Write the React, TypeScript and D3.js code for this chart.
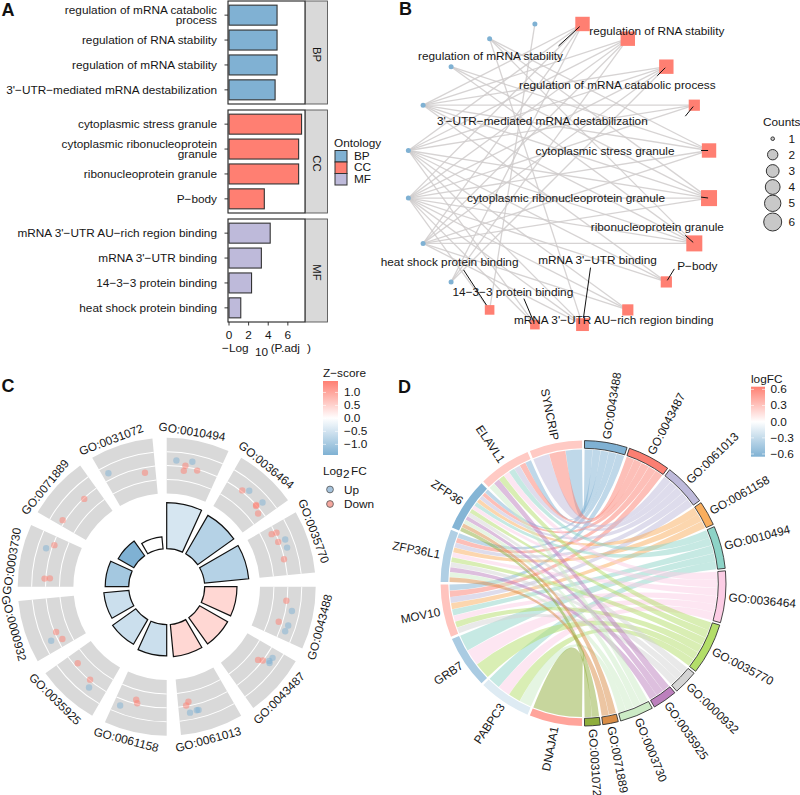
import React from "react";
import * as d3 from "d3";

const FONT = "'Liberation Sans', Arial, sans-serif";
const RED = "#FF7F72";
const BLUE = "#7FB1D3";
const INK = "#161616";

// ---------- shared data ----------
const goIds = ["GO:0043488","GO:0043487","GO:0061013","GO:0061158","GO:0010494","GO:0036464","GO:0035770","GO:0000932","GO:0035925","GO:0003730","GO:0071889","GO:0031072"];
const goNames = ["regulation of mRNA stability","regulation of RNA stability","regulation of mRNA catabolic process","3'−UTR−mediated mRNA destabilization","cytoplasmic stress granule","cytoplasmic ribonucleoprotein granule","ribonucleoprotein granule","P−body","mRNA 3'−UTR AU−rich region binding","mRNA 3'−UTR binding","14−3−3 protein binding","heat shock protein binding"];
const goNegLogP = [4.9,4.9,4.9,4.7,7.4,7.1,7.1,3.6,4.2,3.3,2.3,1.2];
const goCounts = [5,5,5,3,5,6,6,3,3,4,2,2];
const goColors = ["#7FB1D3","#FB7F72","#BEBADA","#F9AE5E","#8DD3C7","#FCCDE5","#B3DE69","#D4D4D4","#BC80BD","#CCEBC5","#D98C45","#8FAE3C"];
const goZ = [0.447,0.447,0.447,-0.577,-0.447,-0.816,-0.816,-0.577,-0.577,-1,-1.414,0];

const genes = ["SYNCRIP","ELAVL1","ZFP36","ZFP36L1","MOV10","GRB7","PABPC3","DNAJA1"];
const geneLogFC = [0.27,0.27,-0.62,-0.4,0.3,-0.43,-0.17,0.46];
const termsSYNCRIP = [0,1,2];
const termsELAVL1 = [0,1,2,4,5,6,8,9];
const termsZFP36 = [0,1,2,3,4,5,6,7,8,9,10,11];
const termsZFP36L1 = [0,1,2,3,5,6,7,8,9,10];
const termsMOV10 = [0,1,2,3,4,5,6,7];
const termsGRB7 = [4,5,6];
const termsPABPC3 = [4,5,6,9];
const termsDNAJA1 = [11];
const geneTerms = [termsSYNCRIP,termsELAVL1,termsZFP36,termsZFP36L1,termsMOV10,termsGRB7,termsPABPC3,termsDNAJA1];

// ---------- panel A ----------
const panelRows = [
  { key: "BP", color: "#80B1D3", terms: [2,1,0,3] },
  { key: "CC", color: RED, terms: [4,5,6,7] },
  { key: "MF", color: "#BEBADA", terms: [8,9,10,11] },
];
const barLabelLines: Record<number,string[]> = {
  2: ["regulation of mRNA catabolic","process"],
  5: ["cytoplasmic ribonucleoprotein","granule"],
};
const xTicksA = [0,2,4,6];

// ---------- panel B ----------
const countsLegend = [1,2,3,4,5,6];
const countsLegendR = [1.8,5.2,6.4,7.4,8.2,9];
const countsLegendY = [138.7,154.7,171,187,203.3,222];
// ggrepel-style label offsets from the node, and where the leader leaves the label
const repelB: { dx:number; dy:number; seg?:[number,number] }[] = [
  { dx:-92, dy:32, seg:[-24,22] },
  { dx:29, dy:-8 },
  { dx:-49, dy:18, seg:[-9,9] },
  { dx:-152, dy:16, seg:[-9,11] },
  { dx:-104, dy:1, seg:[-8,0] },
  { dx:-143, dy:0, seg:[-8,-1] },
  { dx:-37, dy:-16, seg:[-9,-8] },
  { dx:31, dy:-16, seg:[8,-13] },
  { dx:-14, dy:10 },
  { dx:15, dy:-65, seg:[8,-57] },
  { dx:-22, dy:-33, seg:[-11,-26] },
  { dx:-40, dy:-48, seg:[-26,-40] },
];

// ---------- panel C ----------
const cOrder = [4,5,6,0,1,2,3,8,7,9,10,11];
// [angle in degrees, log2FC] for the points of each GO term
const dots0010494 = [[4.4,0.39],[11.6,0.46],[8.8,0.09],[8.4,-0.29],[14.7,-0.08]];
const dots0036464 = [[38.1,0.09],[40.7,0.39],[48.7,0.46],[47.9,-0.05],[47.6,0.0],[51.3,-0.29]];
const dots0035770 = [[63.4,-0.27],[63.8,0.09],[68.1,-0.07],[68.3,0.46],[72,0.39],[76.8,-0.05]];
const dots0043488 = [[96.7,-0.05],[101,0.46],[107.4,-0.27],[107.7,0.46],[110.6,0.39]];
const dots0043487 = [[128.7,-0.29],[127.5,0],[123.9,0.46],[125.9,0.39],[126.6,0.5]];
const dots0061013 = [[169.3,-0.29],[170.7,-0.05],[169.5,0.5],[166.3,0.43],[165.5,0.44]];
const dots0061158 = [[195.1,-0.29],[194.2,-0.07],[201.4,0.46]];
const dots0035925 = [[229.3,-0.27],[219.5,-0.05],[217.6,0.44]];
const dots0000932 = [[247.7,-0.12],[243.4,-0.32],[244.9,0.46]];
const dots0003730 = [[273.8,0.09],[274.1,-0.29],[290.3,-0.1],[287.7,0.39]];
const dots0071889 = [[302.6,0.17],[316.8,-0.05]];
const dots0031072 = [[332.8,0.46],[349.2,-0.37]];
const cDots = [dots0010494,dots0036464,dots0035770,dots0043488,dots0043487,dots0061013,dots0061158,dots0035925,dots0000932,dots0003730,dots0071889,dots0031072];
const zTicks = [1,0.5,0,-0.5,-1];
const fcTicks = [0.6,0.3,0,-0.3,-0.6];

const FS = 11.8;
const rad = (d:number) => d*Math.PI/180;
const fmt = (v:number,n=1) => (v<0?"−":"")+Math.abs(v).toFixed(n);

function PanelA() {
  const x = d3.scaleLinear().domain([0,7.8]).range([229,305.5]);
  const tops = [1,110,219];
  const h = 103;
  return <g fontFamily={FONT}>
    {panelRows.map((p,i)=>{
      const y = d3.scaleBand<number>().domain(p.terms).range([tops[i],tops[i]+h]).paddingInner(0.197).paddingOuter(0.167);
      return <g key={p.key}>
        <rect x={228} y={tops[i]} width={77} height={h} fill="#fff" stroke="#222" strokeWidth={1.1}/>
        <rect x={305.5} y={tops[i]} width={22} height={h} fill="#D9D9D9" stroke="#555" strokeWidth={0.9}/>
        <text transform={`translate(312.5,${tops[i]+h/2+2}) rotate(90)`} fontSize={11.3} fill={INK} textAnchor="middle">{p.key}</text>
        {p.terms.map(t=>{
          const cy = y(t)!+y.bandwidth()/2;
          const lines = barLabelLines[t] || [goNames[t]];
          return <g key={t}>
            <rect x={x(0)} y={y(t)} width={x(goNegLogP[t])-x(0)} height={y.bandwidth()} fill={p.color} stroke="#333" strokeWidth={1.1}/>
            <line x1={224.5} x2={228} y1={cy} y2={cy} stroke="#222" strokeWidth={0.9}/>
            {lines.map((l,k)=><text key={k} x={217} y={cy+3.9+(k-(lines.length-1)/2)*10.6} fontSize={FS} textAnchor="end" fill={INK}>{l}</text>)}
          </g>;
        })}
      </g>;
    })}
    {xTicksA.map(t=><g key={t}>
      <line x1={x(t)} x2={x(t)} y1={322} y2={325.5} stroke="#222" strokeWidth={0.9}/>
      <text x={x(t)} y={339} fontSize={FS} textAnchor="middle" fill={INK}>{t}</text>
    </g>)}
    <text x={222} y={351.5} fontSize={FS} fill={INK}>−Log</text>
    <text x={255} y={355.5} fontSize={FS} fill={INK}>10</text>
    <text x={270.7} y={351.5} fontSize={FS} fill={INK}>(P.adj</text>
    <text x={307} y={351.5} fontSize={FS} fill={INK}>)</text>
    <text x={334} y={147} fontSize={FS} fill={INK}>Ontology</text>
    {panelRows.map((p,i)=><g key={p.key}>
      <rect x={335} y={150.5+i*11.5} width={12} height={11.5} fill={p.color} stroke="#333" strokeWidth={1}/>
      <text x={354} y={160+i*11.4} fontSize={FS} fill={INK}>{p.key}</text>
    </g>)}
  </g>;
}

function PanelB() {
  const cx=558.7, cy=174.3, R=152.2;
  const n = goNames.length+genes.length;
  const ang = d3.scaleLinear().domain([0,n]).range([9,369]);
  const pos = (k:number)=>({x:cx+R*Math.sin(rad(ang(k))), y:cy-R*Math.cos(rad(ang(k)))});
  const side = d3.scaleLinear().domain([2,6]).range([9.6,16]);
  const links = geneTerms.flatMap((ts,g)=>ts.map(t=>({s:pos(12+g),t:pos(t)})));
  return <g fontFamily={FONT}>
    {links.map((l,i)=><line key={i} x1={l.s.x} y1={l.s.y} x2={l.t.x} y2={l.t.y} stroke="#CFCBCB" strokeOpacity={0.85} strokeWidth={1.3}/>)}
    {genes.map((g,i)=>{const p=pos(12+i);return <circle key={g} cx={p.x} cy={p.y} r={2.5} fill="#7FB1D3"/>;})}
    {goNames.map((nm,i)=>{const p=pos(i);const s=side(goCounts[i]);return <rect key={nm} x={p.x-s/2} y={p.y-s/2} width={s} height={s} fill={RED}/>;})}
    {goNames.map((nm,i)=>{
      const p=pos(i), r=repelB[i];
      return <g key={nm}>
        {r.seg && <line x1={p.x+r.seg[0]} y1={p.y+r.seg[1]} x2={p.x+r.seg[0]*0.12} y2={p.y+r.seg[1]*0.12} stroke="#111" strokeWidth={1}/>}
        <text x={p.x+r.dx} y={p.y+r.dy+3.9} fontSize={FS} textAnchor="middle" fill={INK}>{nm}</text>
      </g>;
    })}
    <text x={763} y={126} fontSize={FS} fill={INK}>Counts</text>
    {countsLegend.map((c,i)=>{
      const y=countsLegendY[i];
      return <g key={c}>
        <circle cx={772.7} cy={y} r={countsLegendR[i]} fill="#C8C8C8" stroke="#333" strokeWidth={1}/>
        <text x={788.5} y={y+3.9} fontSize={FS} fill={INK}>{c}</text>
      </g>;
    })}
  </g>;
}

function PanelC() {
  const cx=166.7, cy=586.7, W=24.5;
  const rr = d3.scaleLinear().domain([-2,2]).range([93.3,149]);
  const barR = d3.scaleLinear().domain([0,7.4]).range([43.4,84]);
  const z = d3.scaleLinear<string>().domain([-1.41,0,1.44]).range([BLUE,"#fff",RED]);
  const arc = d3.arc<any>();
  const leg = d3.scaleLinear().domain([-1.41,1.44]).range([455,381]);
  return <g fontFamily={FONT}>
    <defs>
      <linearGradient id="zGrad" x1="0" x2="0" y1="1" y2="0">
        {d3.range(0,1.001,0.1).map(t=><stop key={t} offset={t} stopColor={z(-1.41+t*2.85)}/>)}
      </linearGradient>
    </defs>
    <g transform={`translate(${cx},${cy})`}>
      {cOrder.map((g,i)=>{
        const a0=rad(i*30), a1=rad(i*30+W);
        const labelAng = i*30 + ((i>=3&&i<=8)?14.8:9.3);
        const lr = (i>=3&&i<=8)?158.5:157;
        const rot = labelAng<=90?labelAng: labelAng<270? labelAng-180 : labelAng-360;
        return <g key={g}>
          <path d={arc({innerRadius:rr(-2),outerRadius:rr(2),startAngle:a0,endAngle:a1})!} fill="#D9D9D9"/>
          {[-1,0,1].map(v=><path key={v} d={arc({innerRadius:rr(v)-0.5,outerRadius:rr(v)+0.5,startAngle:a0,endAngle:a1})!} fill="#fff"/>)}
          <path d={arc({innerRadius:38,outerRadius:barR(goNegLogP[g]),startAngle:a0,endAngle:a1})!} fill={z(goZ[g])} stroke="#111" strokeWidth={1.2}/>
          {cDots[i].map((d,k)=>{
            const r=rr(d[1]), th=rad(d[0]);
            return <circle key={k} cx={r*Math.sin(th)} cy={-r*Math.cos(th)} r={3.2} fill={d[1]>0.25?"#7FB1D3":RED} fillOpacity={0.5}/>;
          })}
          <text transform={`translate(${lr*Math.sin(rad(labelAng))},${-lr*Math.cos(rad(labelAng))}) rotate(${rot})`} y={3.9} fontSize={FS} textAnchor="middle" fill={INK}>{goIds[g]}</text>
        </g>;
      })}
    </g>
    <text x={323} y={377} fontSize={FS} fill={INK}>Z−score</text>
    <rect x={323} y={381} width={15} height={74} fill="url(#zGrad)"/>
    {zTicks.map(t=><g key={t}>
      <line x1={323} x2={326} y1={leg(t)} y2={leg(t)} stroke="#fff" strokeWidth={0.6}/>
      <line x1={335} x2={338} y1={leg(t)} y2={leg(t)} stroke="#fff" strokeWidth={0.6}/>
      <text x={344} y={leg(t)+3.9} fontSize={FS} fill={INK}>{fmt(t)}</text>
    </g>)}
    <text x={323} y={475} fontSize={FS} fill={INK}>Log</text>
    <text x={343} y={478} fontSize={FS} fill={INK}>2</text>
    <text x={351} y={475} fontSize={FS} fill={INK}>FC</text>
    <circle cx={330} cy={489.5} r={3.4} fill="#A6C3DC" stroke="#555" strokeWidth={0.8}/>
    <text x={344} y={493.5} fontSize={FS} fill={INK}>Up</text>
    <circle cx={330} cy={504} r={3.4} fill="#F5A79E" stroke="#555" strokeWidth={0.8}/>
    <text x={344} y={508} fontSize={FS} fill={INK}>Down</text>
  </g>;
}

function PanelD() {
  const cx=583.3, cy=583.3, Ro=142.7, Ri=135, Rr=133.8;
  const unit = 180/d3.sum(goCounts);
  const fc = d3.scaleLinear<string>().domain([-0.65,0,0.65]).range([BLUE,"#fff",RED]);
  const arc = d3.arc<any>();
  const ribbon = d3.ribbon<any,any>().radius(Rr);
  const gap = 0.5, pad = 0.05;
  const cum = [0,...d3.cumsum(goCounts)];
  const goSpan = goIds.map((g,i)=>[cum[i]*unit,cum[i+1]*unit]);
  const geneStart = genes.map((g,i)=>180+(genes.length-1-i)*22.5);
  const goSeen = goIds.map(()=>0);
  const links: {go:number;gene:number;d:string}[] = [];
  genes.forEach((g,gi)=>{
    const ts = geneTerms[gi];
    const s0 = geneStart[gi]+gap, w=(22.5-2*gap)/ts.length;
    const rev=[...ts].reverse();
    rev.forEach((t,k)=>{
      const goW=(goSpan[t][1]-goSpan[t][0]-2*gap)/goCounts[t];
      const p=goSeen[t]++;
      const g0=goSpan[t][0]+gap+p*goW;
      links.push({go:t,gene:gi,d:ribbon({
        source:{startAngle:rad(s0+k*w+pad),endAngle:rad(s0+(k+1)*w-pad)},
        target:{startAngle:rad(g0+pad),endAngle:rad(g0+goW-pad)},
      }) as unknown as string});
    });
  });
  const leg = d3.scaleLinear().domain([-0.65,0.65]).range([456.7,386.7]);
  const sorted=[...links].sort((a,b)=>d3.ascending(a.go,b.go));
  return <g fontFamily={FONT}>
    <defs>
      <linearGradient id="fcGrad" x1="0" x2="0" y1="1" y2="0">
        {d3.range(0,1.001,0.1).map(t=><stop key={t} offset={t} stopColor={fc(-0.65+t*1.3)}/>)}
      </linearGradient>
    </defs>
    <g transform={`translate(${cx},${cy})`}>
      {sorted.map((l,i)=><path key={i} d={l.d} fill={goColors[l.go]} fillOpacity={0.5}/>)}
      {goIds.map((g,i)=>{
        const [a,b]=goSpan[i];
        const mid=(a+b)/2;
        return <g key={g}>
          <path d={arc({innerRadius:Ri,outerRadius:Ro,startAngle:rad(a+gap),endAngle:rad(b-gap)})!} fill={goColors[i]} stroke="#333" strokeWidth={0.9}/>
          <text transform={`rotate(${mid-90}) translate(146,0)`} y={3.9} fontSize={FS} fill={INK}>{g}</text>
        </g>;
      })}
      {genes.map((g,i)=>{
        const a=geneStart[i], mid=a+11.25;
        return <g key={g}>
          <path d={arc({innerRadius:Ri,outerRadius:Ro,startAngle:rad(a+gap),endAngle:rad(a+22.5-gap)})!} fill={fc(geneLogFC[i])}/>
          <text transform={`rotate(${mid+90}) translate(-146,0)`} y={3.9} fontSize={FS} textAnchor="end" fill={INK}>{g}</text>
        </g>;
      })}
    </g>
    <text x={751} y={383} fontSize={FS} fill={INK}>logFC</text>
    <rect x={751} y={386.7} width={14} height={70} fill="url(#fcGrad)"/>
    {fcTicks.map(t=><g key={t}>
      <line x1={751} x2={754} y1={leg(t)} y2={leg(t)} stroke="#fff" strokeWidth={0.6}/>
      <line x1={762} x2={765} y1={leg(t)} y2={leg(t)} stroke="#fff" strokeWidth={0.6}/>
      <text x={770.5} y={leg(t)+3.9} fontSize={FS} fill={INK}>{fmt(t)}</text>
    </g>)}
  </g>;
}

export default function App() {
  const letter = (t:string,x:number,y:number)=><text x={x} y={y} fontFamily={FONT} fontWeight="bold" fontSize={18} fill="#111">{t}</text>;
  return <svg width={800} height={795} viewBox="0 0 800 795" style={{position:"absolute",left:0,top:0,background:"#fff"}}>
    <PanelB/>
    <PanelA/>
    <PanelC/>
    <PanelD/>
    {letter("A",1.5,16)}
    {letter("B",399,15)}
    {letter("C",1.5,392)}
    {letter("D",398,392.5)}
  </svg>;
}
